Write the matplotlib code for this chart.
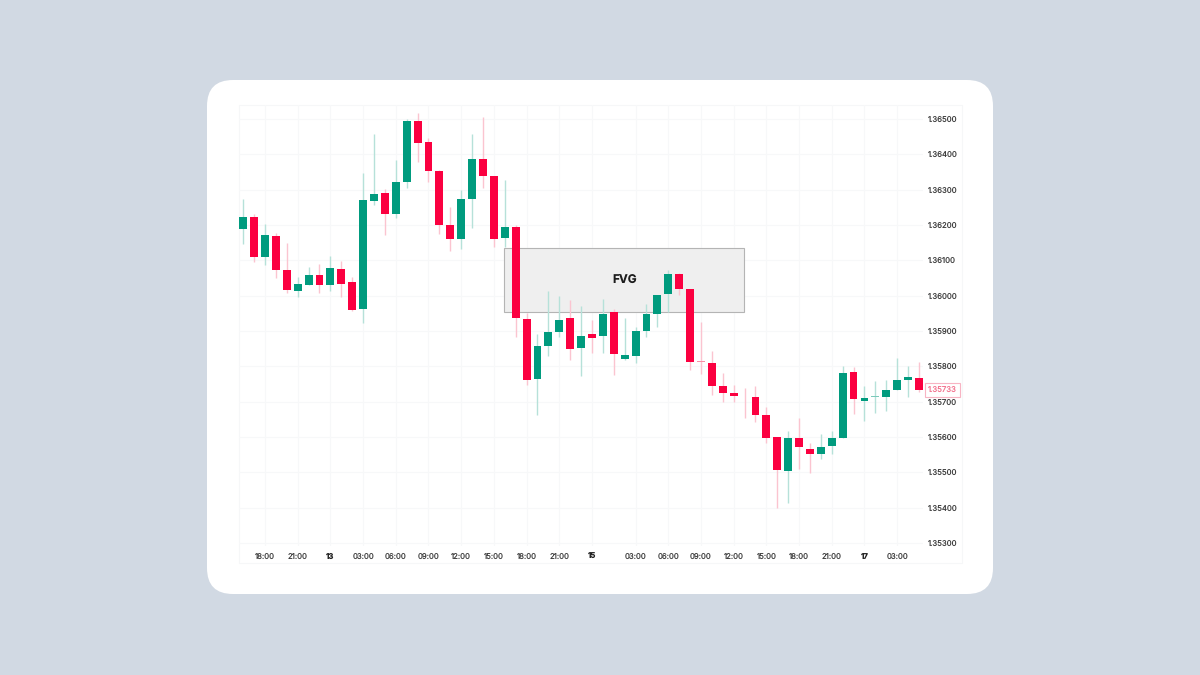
import matplotlib
matplotlib.use("Agg")
import matplotlib.pyplot as plt
from matplotlib.patches import FancyBboxPatch, Rectangle

plt.rcParams['font.family'] = ['Inter', 'DejaVu Sans']
plt.rcParams['text.hinting'] = 'no_hinting'

opens = [1.36190,1.36223,1.36110,1.36170,1.36073,1.36014,1.36031,1.36058,1.36029,1.36075,1.36038,1.35962,1.36269,1.36291,1.36232,1.36321,
         1.36494,1.36434,1.36353,1.36201,1.36160,1.36273,1.36386,1.36339,1.36163,1.36193,1.35935,1.35764,1.35857,1.35898,1.35937,1.35851,
         1.35891,1.35886,1.35954,1.35821,1.35829,1.35900,1.35947,1.36004,1.36062,1.36018,1.35814,1.35810,1.35745,1.35725,1.35714,1.35712,
         1.35661,1.35599,1.35503,1.35596,1.35567,1.35551,1.35574,1.35598,1.35784,1.35702,1.35712,1.35713,1.35732,1.35761,1.35768]
closes = [1.36224,1.36110,1.36173,1.36073,1.36015,1.36032,1.36058,1.36030,1.36079,1.36034,1.35959,1.36270,1.36289,1.36232,1.36321,1.36493,
          1.36433,1.36354,1.36201,1.36160,1.36273,1.36388,1.36339,1.36160,1.36193,1.35936,1.35762,1.35858,1.35898,1.35932,1.35848,1.35887,
          1.35879,1.35949,1.35835,1.35831,1.35900,1.35949,1.36003,1.36062,1.36020,1.35812,1.35812,1.35744,1.35724,1.35715,1.35712,1.35662,
          1.35598,1.35507,1.35597,1.35571,1.35551,1.35572,1.35597,1.35781,1.35708,1.35711,1.35715,1.35734,1.35762,1.35770,1.35733]
highs = [1.36274,1.36231,1.36203,1.36178,1.36148,1.36054,1.36082,1.36090,1.36113,1.36098,1.36052,1.36346,1.36458,1.36301,1.36384,1.36500,
         1.36518,1.36447,1.36356,1.36252,1.36299,1.36458,1.36507,1.36339,1.36327,1.36200,1.35952,1.35891,1.36012,1.35999,1.35988,1.35972,
         1.35931,1.35990,1.35961,1.35938,1.35912,1.35976,1.36003,1.36073,1.36064,1.36018,1.35926,1.35843,1.35780,1.35747,1.35738,1.35743,
         1.35686,1.35599,1.35617,1.35655,1.35584,1.35608,1.35618,1.35802,1.35797,1.35744,1.35759,1.35761,1.35823,1.35801,1.35812]
lows = [1.36146,1.36096,1.36087,1.36051,1.36008,1.35997,1.36030,1.36008,1.36014,1.35997,1.35957,1.35923,1.36257,1.36172,1.36220,1.36306,
        1.36379,1.36322,1.36174,1.36126,1.36133,1.36192,1.36305,1.36137,1.36139,1.35882,1.35747,1.35662,1.35830,1.35882,1.35818,1.35773,
        1.35837,1.35837,1.35776,1.35817,1.35809,1.35884,1.35912,1.35955,1.36001,1.35790,1.35778,1.35718,1.35700,1.35700,1.35653,1.35643,
        1.35584,1.35400,1.35412,1.35509,1.35499,1.35538,1.35552,1.35598,1.35665,1.35645,1.35669,1.35674,1.35732,1.35714,1.35726]

price_ticks = [1.353,1.354,1.355,1.356,1.357,1.358,1.359,1.360,1.361,1.362,1.363,1.364,1.365]
time_tick_idx = [2,5,8,11,14,17,20,23,26,29,32,36,39,42,45,48,51,54,57,60]
time_labels = ['18:00','21:00','13','03:00','06:00','09:00','12:00','15:00','18:00','21:00','15',
               '03:00','06:00','09:00','12:00','15:00','18:00','21:00','17','03:00']
day_labels = ['13','15','17']
fvg_start, fvg_end = 23.93, 45.95
fvg_low, fvg_high = 1.359537, 1.361349
fvg_text = 'FVG'
last_price = 1.35733

UP, DOWN = '#009b7e', '#fb0040'
UP_WICK, DOWN_WICK = '#b6e1d9', '#fbc4d0'
UP_DOJI, DOWN_DOJI = '#7cc9ba', '#f98ea6'
W, H = 1200, 675

fig = plt.figure(figsize=(12, 6.75), dpi=100, facecolor='#d1d9e3')

# card and chart frame, in pixel coordinates
bg = fig.add_axes([0, 0, 1, 1], zorder=0)
bg.set_xlim(0, W); bg.set_ylim(H, 0); bg.axis('off')
bg.add_patch(FancyBboxPatch((207+26, 80+26), 786-52, 514-52, boxstyle='round,pad=26,rounding_size=26',
                            fc='white', ec='none'))
bg.add_patch(Rectangle((239, 105), 723, 458, fc='none', ec='#f6f7f8', lw=0.8))

ax = fig.add_axes([239/W, 1-546/H, (923-239)/W, (546-105)/H], zorder=1)
ax.patch.set_alpha(0)
ax.set_xlim(-0.385, 62.37)
ax.set_ylim(1.352914, 1.365396)
for s in ax.spines.values():
    s.set_visible(False)

ax.set_axisbelow(True)
ax.grid(True, color='#f7f8f9', lw=0.8)
ax.yaxis.tick_right()
ax.set_yticks(price_ticks)
ax.set_yticklabels([f'{p:.5f}' for p in price_ticks], va='center_baseline')
ax.set_xticks(time_tick_idx)
ax.set_xticklabels(time_labels)
ax.tick_params(axis='y', length=0, pad=3.6, labelsize=5.6, labelcolor='#3d3d3d')
ax.tick_params(axis='x', length=0, pad=5.2, labelsize=5.6, labelcolor='#3d3d3d')
for lab in ax.get_xticklabels():
    if lab.get_text() in day_labels:
        lab.set_fontweight('bold')
        lab.set_color('#222222')

ax.add_patch(Rectangle((fvg_start, fvg_low), fvg_end-fvg_start, fvg_high-fvg_low,
                       fc='#efefef', ec='#b4b4b4', lw=0.8, zorder=1.5))

xs = list(range(len(opens)))
wick_cols = [UP_WICK if c >= o else DOWN_WICK for o, c in zip(opens, closes)]
body_cols = []
for o, c in zip(opens, closes):
    if abs(c - o) <= 3e-5:
        body_cols.append(UP_DOJI if c >= o else DOWN_DOJI)
    else:
        body_cols.append(UP if c >= o else DOWN)
ax.vlines(xs, lows, highs, colors=wick_cols, lw=1.0, zorder=2)
ax.bar(xs, [max(abs(c-o), 2.5e-5) for o, c in zip(opens, closes)],
       bottom=[min(o, c) for o, c in zip(opens, closes)],
       width=0.72, color=body_cols, lw=0, zorder=3)

ax.text((fvg_start+fvg_end)/2 + 0.03, (fvg_low+fvg_high)/2 - 0.00003, fvg_text, ha='center', va='center',
        fontsize=8.5, fontweight='bold', color='#1d1d1d', zorder=4)

ax.annotate(f'{last_price:.5f}', xy=(1, last_price), xycoords=ax.get_yaxis_transform(),
            xytext=(3.6, 0), textcoords='offset points', ha='left', va='center',
            fontsize=5.6, color='#f2708c', annotation_clip=False,
            bbox=dict(boxstyle='square,pad=0.4', fc='white', ec='#f8b4c3', lw=0.8))

fig.savefig('out.png', dpi=100, facecolor=fig.get_facecolor())
